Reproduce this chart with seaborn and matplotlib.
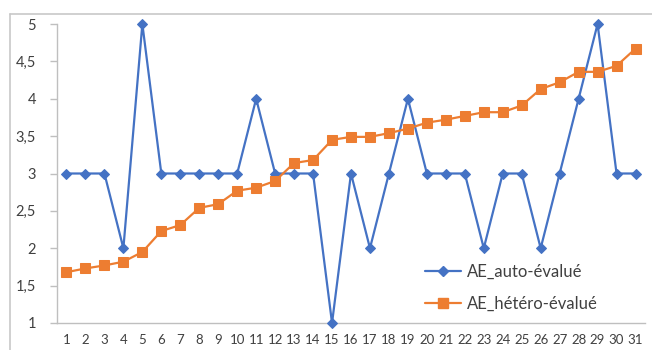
import matplotlib
matplotlib.use("Agg")
import matplotlib.pyplot as plt
from matplotlib.lines import Line2D
import seaborn as sb
import pandas as pd
import numpy as np

# data
participants = list(range(1, 32))
auto_evalue = [3, 3, 3, 2, 5, 3, 3, 3, 3, 3, 4, 3, 3, 3, 1, 3,
               2, 3, 4, 3, 3, 3, 2, 3, 3, 2, 3, 4, 5, 3, 3]
hetero_evalue = [1.68, 1.73, 1.77, 1.82, 1.95, 2.23, 2.31, 2.54, 2.59, 2.77, 2.81,
                 2.90, 3.14, 3.18, 3.45, 3.49, 3.49, 3.54, 3.60, 3.68, 3.72, 3.77,
                 3.82, 3.82, 3.91, 4.13, 4.22, 4.36, 4.36, 4.44, 4.67]
y_ticks = [1, 1.5, 2, 2.5, 3, 3.5, 4, 4.5, 5]

blue = '#4472C4'
orange = '#ED7D31'
text_col = '#404040'
axis_col = '#BFBFBF'

sb.set_style('white')
plt.rcParams['font.family'] = ['Lato', 'DejaVu Sans']

df = pd.DataFrame({'x': participants, 'auto': auto_evalue, 'hetero': hetero_evalue})

fig = plt.figure(figsize=(6.52, 3.5), dpi=100)
ax = fig.add_axes([57 / 652, 27 / 350, 588 / 652, 299 / 350])

sb.lineplot(data=df, x='x', y='auto', ax=ax, color=blue, linewidth=1.6,
            marker='D', markersize=5, markeredgecolor=blue, clip_on=False)
sb.lineplot(data=df, x='x', y='hetero', ax=ax, color=orange, linewidth=1.6,
            marker='s', markersize=6.5, markeredgecolor=orange, clip_on=False)

ax.set_xlim(0.5, 31.5)
ax.set_ylim(1, 5)
ax.set_xticks(participants)
ax.set_xticklabels([str(p) for p in participants])
ax.set_xticks(np.arange(0.5, 32, 1), minor=True)
ax.set_yticks(y_ticks)
ax.set_yticklabels([('%g' % v).replace('.', ',') for v in y_ticks])
ax.set_xlabel('')
ax.set_ylabel('')

for side in ['top', 'right']:
    ax.spines[side].set_visible(False)
for side in ['left', 'bottom']:
    ax.spines[side].set_color(axis_col)
    ax.spines[side].set_linewidth(1)
    ax.spines[side].set_zorder(0)

ax.tick_params(axis='x', which='major', length=0, labelsize=9.5, labelcolor=text_col, pad=8)
ax.tick_params(axis='x', which='minor', length=5, color=axis_col, width=1)
ax.tick_params(axis='y', length=5, color=axis_col, width=1, labelsize=10.5,
               labelcolor=text_col, pad=10, left=True)

handles = [Line2D([], [], color=blue, linewidth=1.6, marker='D', markersize=5),
           Line2D([], [], color=orange, linewidth=1.6, marker='s', markersize=6.5)]
ax.legend(handles, ['AE_auto-évalué', 'AE_hétéro-évalué'], frameon=False,
          loc='lower left', bbox_to_anchor=(0.6, -0.012), fontsize=12,
          labelcolor=text_col, handlelength=2.2, handletextpad=0.3, labelspacing=0.95)

# chart area border (only top and left visible in the crop)
fig.add_artist(Line2D([10 / 652, 1], [1 - 14 / 350, 1 - 14 / 350],
                      transform=fig.transFigure, color='#C8C8C8', linewidth=1.2))
fig.add_artist(Line2D([10 / 652, 10 / 652], [0, 1 - 14 / 350],
                      transform=fig.transFigure, color='#C8C8C8', linewidth=1.2))

fig.savefig('out.png', dpi=100)
